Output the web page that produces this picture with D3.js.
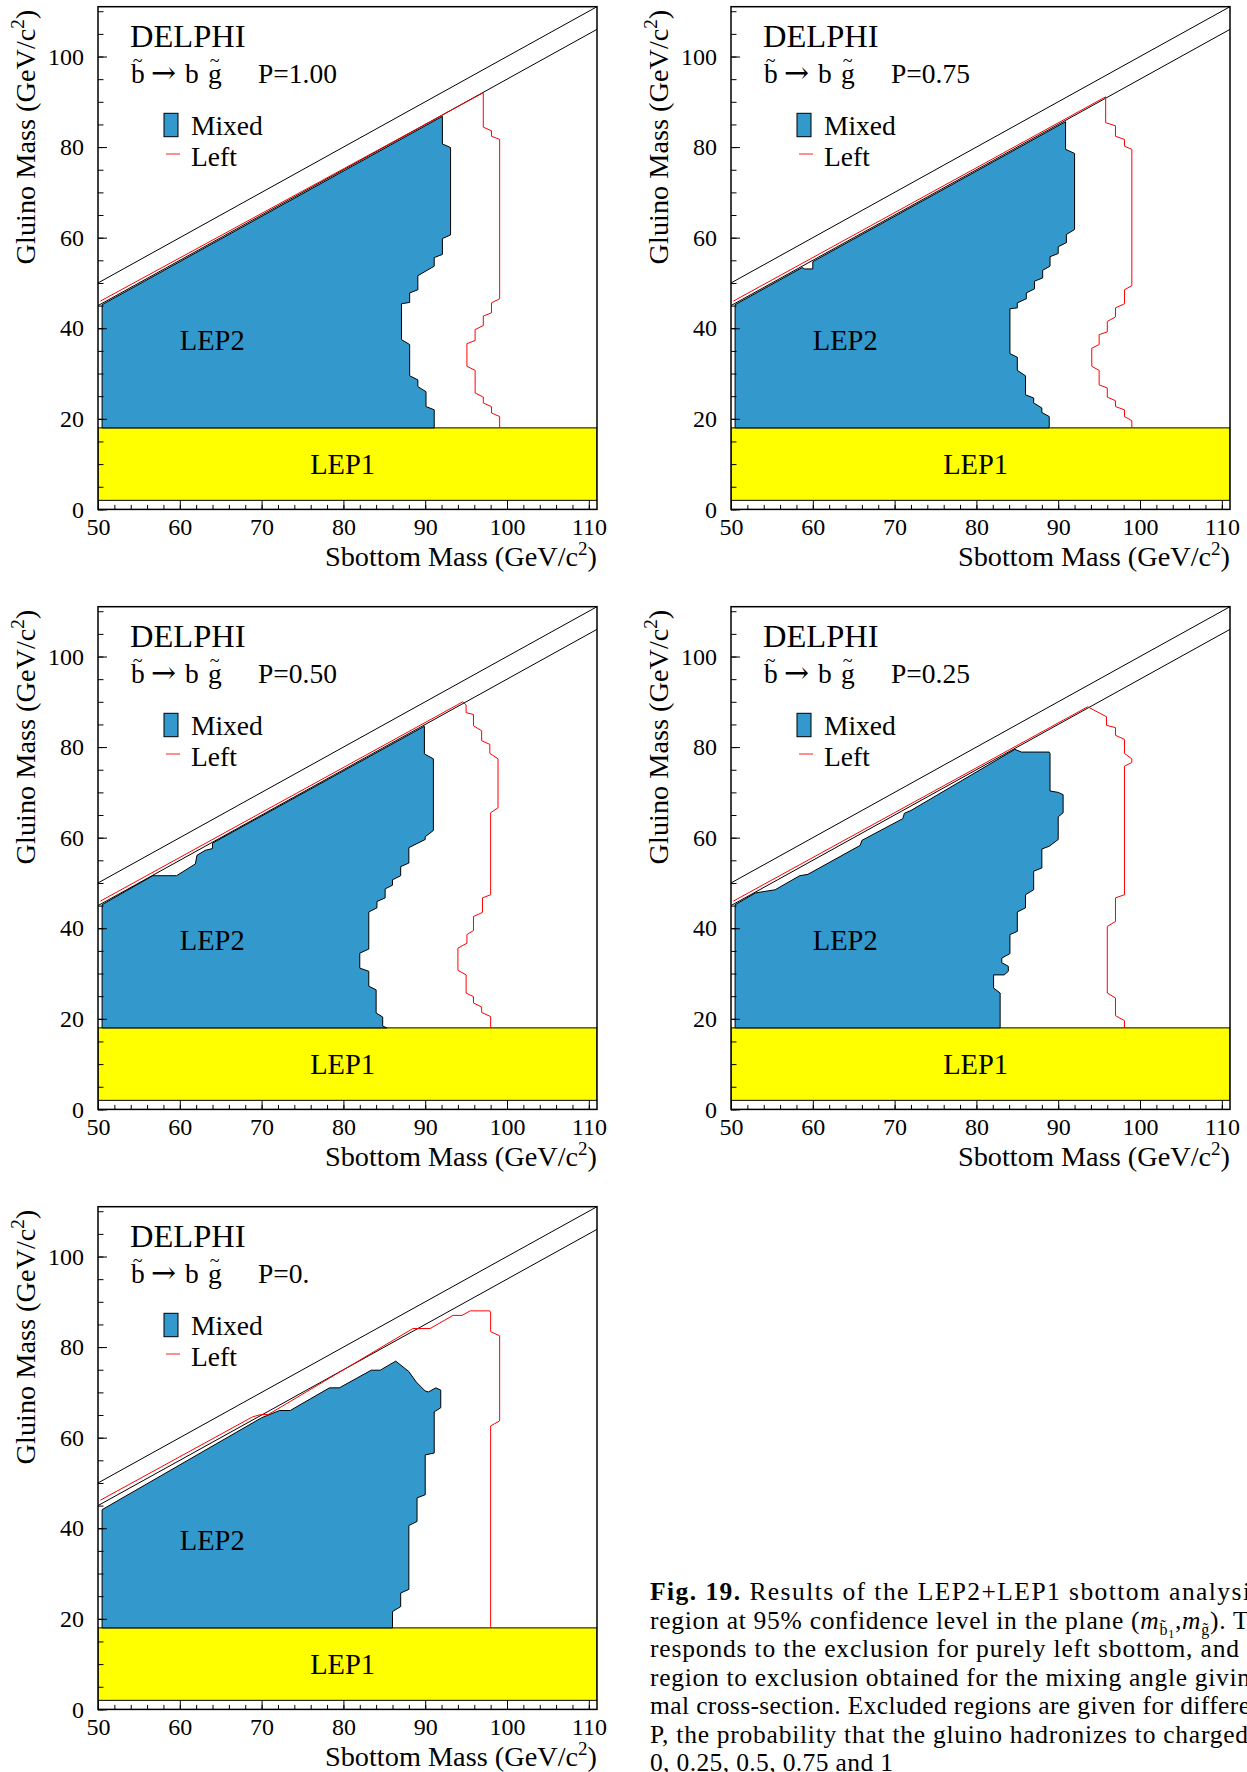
<!DOCTYPE html>
<html>
<head>
<meta charset="utf-8">
<script src="https://cdn.jsdelivr.net/npm/d3@7"></script>
<style>
  body { margin: 0; background: #fff; }
  svg { display: block; }
  text { font-family: "Liberation Serif", "Times New Roman", serif; fill: #000; }
</style>
</head>
<body>
<svg id="fig" width="1247" height="1772"></svg>
<script>
// axis ticks
const xTicks = [50, 60, 70, 80, 90, 100, 110]
const xMinor = d3.range(50, 111, 2)
const yTicks = [0, 20, 40, 60, 80, 100]
const yMinor = d3.range(0, 111, 5)

// kinematic limits and LEP1 band (GeV/c2)
const kinUpper = [[50, 50], [111, 111]]
const kinLower = [[50, 45], [111, 106]]
const lep1Band = [2, 18]

const pLabels = ['P=1.00', 'P=0.75', 'P=0.50', 'P=0.25', 'P=0.']

// excluded region, mixing angle of minimal cross-section (blue)
const mixed100 = [[50.5,18],[50.5,45.2],[92.1,86.8],[92.1,80.7],[93.1,79.9],[93.1,60.6],[92.1,59.8],[92.1,56.3],[91.1,55.6],[91.1,53.7],[89.1,51.6],[89.1,48.5],[88.1,47.8],[88.1,45.7],[87.1,45.4],[87.1,37.5],[88.1,36.4],[88.1,29.5],[89.1,28.6],[89.1,27.1],[90.1,26.0],[90.1,22.7],[91.1,22.0],[91.1,18]]
const mixed075 = [[50.5,18],[50.5,45.2],[58.7,53.4],[59.0,53.1],[60.0,53.1],[60.0,54.7],[90.9,85.6],[90.9,79.5],[92.0,78.6],[92.0,61.8],[91.0,60.7],[91.0,58.9],[90.0,58.0],[90.0,56.5],[89.0,55.8],[89.0,53.7],[88.1,52.8],[88.1,51.1],[87.1,50.4],[87.1,48.7],[86.1,47.8],[86.1,46.5],[85.0,45.6],[85.0,44.5],[84.1,44.3],[84.1,34.4],[85.0,33.6],[85.0,30.7],[86.0,29.5],[86.0,25.3],[87.0,24.6],[87.0,23.5],[88.0,22.4],[88.0,21.4],[88.9,20.5],[88.9,18]]
const mixed050 = [[50.5,18],[50.5,45.2],[56.7,51.6],[59.6,51.6],[61.9,54.2],[62.1,56.1],[63.1,57.2],[64.0,57.6],[64.0,58.8],[89.9,84.6],[89.9,78.5],[91.0,77.4],[91.0,61.6],[90.0,60.2],[90.0,59.6],[88.0,57.8],[88.0,54.4],[87.0,53.6],[87.0,51.6],[86.0,50.7],[86.0,49.5],[85.1,48.7],[85.1,46.7],[84.1,45.9],[84.1,44.5],[83.1,43.6],[83.1,35.4],[82.0,34.5],[82.0,31.2],[83.1,30.5],[83.1,27.2],[84.0,26.4],[84.0,21.3],[84.8,20.4],[84.8,18.4],[85.3,18]]
const mixed025 = [[50.5,18],[50.5,45.2],[53.0,47.8],[55.4,48.5],[58.4,51.6],[59.4,51.9],[65.8,58.3],[66.0,59.4],[71.0,64.2],[71.2,65.4],[72.0,66.0],[84.7,79.5],[85.5,78.9],[88.9,78.9],[89.0,78.6],[89.0,70.3],[90.0,70.0],[90.6,69.5],[90.6,65.5],[90.0,64.6],[90.0,59.6],[88.9,58.1],[88.0,57.5],[88.0,53.3],[87.0,52.6],[87.0,48.5],[86.0,47.4],[86.0,44.5],[85.0,43.6],[85.0,39.3],[84.1,38.6],[84.1,34.4],[83.1,33.4],[83.1,32.4],[83.9,31.6],[83.9,30.5],[83.4,29.7],[82.1,29.7],[82.1,26.8],[82.9,25.7],[82.9,18]]
const mixed000 = [[50.5,18],[50.5,44.1],[70.0,64.4],[72.2,66.0],[73.5,66.0],[78.3,71.0],[79.5,71.0],[83.4,74.9],[84.5,74.9],[86.4,76.9],[88.0,74.6],[88.9,72.3],[90.0,70.3],[90.4,70.1],[91.3,71.0],[91.9,70.5],[91.9,66.6],[91.1,65.7],[91.1,56.6],[90.0,56.2],[90.0,47.4],[89.0,46.7],[89.0,41.5],[88.0,40.6],[88.0,26.5],[87.0,25.7],[87.0,22.7],[86.0,21.6],[86.0,18]]

// excluded region, purely left sbottom (red contour)
const left100 = [[50.3,46.0],[97.1,92.0],[97.1,84.4],[98.1,83.6],[98.1,82.4],[99.1,81.7],[99.1,46.5],[98.1,45.6],[98.1,43.4],[97.1,42.7],[97.1,40.6],[96.1,39.7],[96.1,37.3],[95.1,36.6],[95.1,31.6],[96.1,30.7],[96.1,25.7],[97.1,24.8],[97.1,23.5],[98.1,22.7],[98.1,21.3],[99.1,20.5],[99.1,18]]
const left075 = [[50.3,46.0],[95.8,91.1],[95.8,85.4],[97.0,84.7],[97.0,82.4],[98.1,81.7],[98.1,80.2],[99.0,79.5],[99.0,49.4],[98.1,48.5],[98.1,45.4],[97.0,44.5],[97.0,42.5],[96.0,41.5],[96.0,39.2],[95.0,38.6],[95.0,36.4],[94.1,35.6],[94.1,31.6],[95.0,30.7],[95.0,27.5],[96.0,26.8],[96.0,24.8],[97.0,24.0],[97.0,22.7],[98.1,22.0],[98.1,20.5],[99.0,19.6],[99.0,18]]
const left050 = [[50.3,46.0],[94.6,90.0],[95.0,89.3],[95.0,87.6],[95.9,87.2],[95.9,84.7],[96.9,83.6],[96.9,81.4],[97.9,80.6],[97.9,78.6],[98.9,77.4],[98.9,66.6],[98.0,65.5],[98.0,47.4],[97.0,46.7],[97.0,43.5],[95.9,42.6],[95.9,39.5],[95.1,38.6],[95.1,36.7],[94.0,35.6],[94.0,30.7],[95.0,29.7],[95.0,25.7],[95.9,24.9],[95.9,23.5],[96.9,22.6],[96.9,21.4],[98.0,20.5],[98.0,18]]
const left025 = [[50.3,46.0],[93.6,88.9],[95.9,86.7],[95.9,84.8],[97.0,84.3],[97.0,82.6],[98.1,81.7],[98.1,78.6],[99.0,77.4],[99.0,76.6],[98.1,75.8],[98.1,47.4],[97.0,46.7],[97.0,41.5],[96.0,40.4],[96.0,25.7],[97.0,24.6],[97.0,20.7],[98.1,19.6],[98.1,18]]
const left000 = [[50.3,46.2],[68.9,64.6],[69.9,65.1],[70.8,65.1],[88.5,84.1],[90.6,84.1],[93.4,87.0],[94.5,87.0],[95.5,88.0],[97.9,88.0],[98.0,87.5],[98.0,83.4],[99.1,82.5],[99.1,63.7],[98.0,62.6],[98.0,18]]

const mixedRegions = [mixed100, mixed075, mixed050, mixed025, mixed000]
const leftContours = [left100, left075, left050, left025, left000]

// caption lines (text as printed, cut by the page edge)
const captionLines = [
  [{ t: 'Fig. 19.', b: true }, { t: ' Results of the LEP2+LEP1 sbottom analysi' }],
  [{ t: 'region at 95% confidence level in the plane (' }, { t: 'm', i: true }, { t: 'b\u0303', s: 16, sh: 6 }, { t: '1', s: 12, sh: 9 }, { t: ',' }, { t: 'm', i: true }, { t: 'g\u0303', s: 16, sh: 6 }, { t: '). T' }],
  [{ t: 'responds to the exclusion for purely left sbottom, and' }],
  [{ t: 'region to exclusion obtained for the mixing angle givin' }],
  [{ t: 'mal cross-section. Excluded regions are given for differe' }],
  [{ t: 'P, the probability that the gluino hadronizes to charged' }],
  [{ t: '0, 0.25, 0.5, 0.75 and 1' }],
]
const captionEnds = [1250, 1250, 1239, 1250, 1250, 1248, 893]

const W = 499, H = 502.7
const colX = [98, 731]
const rowY = [6.7, 606.7, 1206.7]
const blue = '#3399cc'

const svg = d3.select('#fig')

const x = d3.scaleLinear().domain([50, 111]).range([0, W])
const y = d3.scaleLinear().domain([0, 111]).range([H, 0])
const line = d3.line().x(d => x(d[0])).y(d => y(d[1]))

pLabels.forEach((pLabel, i) => {
  const g = svg.append('g')
      .attr('transform', `translate(${ colX[i % 2] },${ rowY[Math.floor(i / 2)] })`)

  g.append('clipPath').attr('id', 'clip' + i)
    .append('rect').attr('width', W).attr('height', H)

  const plot = g.append('g').attr('clip-path', `url(#clip${ i })`)

  // LEP1 band
  plot.append('rect')
      .attr('x', x(50))
      .attr('y', y(lep1Band[1]))
      .attr('width', x(111) - x(50))
      .attr('height', y(lep1Band[0]) - y(lep1Band[1]))
      .attr('fill', '#ffff00')
      .attr('stroke', '#000')
      .attr('stroke-width', 1)

  plot.append('path')
      .attr('d', line(mixedRegions[i]) + 'Z')
      .attr('fill', blue)
      .attr('stroke', '#000')
      .attr('stroke-width', 1)

  plot.selectAll('path.kin')
    .data([kinUpper, kinLower])
    .join('path')
      .attr('class', 'kin')
      .attr('d', line)
      .attr('fill', 'none')
      .attr('stroke', '#000')
      .attr('stroke-width', 1)

  plot.append('path')
      .attr('d', line(leftContours[i]))
      .attr('fill', 'none')
      .attr('stroke', '#ff0000')
      .attr('stroke-width', 1)

  // axes, ticks inside the frame
  const font = a => a.attr('font-family', '"Liberation Serif", "Times New Roman", serif').attr('font-size', 24)
  g.append('g').attr('transform', `translate(0,${ H })`)
      .call(d3.axisBottom(x).tickValues(xMinor).tickSize(-4.5).tickFormat(''))
      .call(a => a.select('.domain').remove())
  g.append('g').attr('transform', `translate(0,${ H })`)
      .call(d3.axisBottom(x).tickValues(xTicks).tickSize(-9).tickPadding(9))
      .call(a => a.select('.domain').remove())
      .call(font)
  g.append('g')
      .call(d3.axisLeft(y).tickValues(yMinor).tickSize(-5.5).tickFormat(''))
      .call(a => a.select('.domain').remove())
  g.append('g')
      .call(d3.axisLeft(y).tickValues(yTicks).tickSize(-9).tickPadding(14))
      .call(a => a.select('.domain').remove())
      .call(font)

  g.append('rect')
      .attr('width', W).attr('height', H)
      .attr('fill', 'none')
      .attr('stroke', '#000')
      .attr('stroke-width', 1.5)

  // titles
  const xt = g.append('text')
      .attr('x', W).attr('y', H + 56.3)
      .attr('text-anchor', 'end')
      .attr('font-size', 28.3)
  xt.append('tspan').text('Sbottom Mass (GeV/c')
  xt.append('tspan').attr('dy', -11).attr('font-size', 19).text('2')
  xt.append('tspan').attr('dy', 11).text(')')

  const yt = g.append('text')
      .attr('transform', 'translate(-63,3) rotate(-90)')
      .attr('text-anchor', 'end')
      .attr('font-size', 28.3)
  yt.append('tspan').text('Gluino Mass (GeV/c')
  yt.append('tspan').attr('dy', -11).attr('font-size', 19).text('2')
  yt.append('tspan').attr('dy', 11).text(')')

  // header
  g.append('text').attr('x', 32).attr('y', 40.5).attr('font-size', 32.5).text('DELPHI')

  const hdr = g.append('text').attr('y', 76.6).attr('font-size', 27.5)
  hdr.append('tspan').attr('x', 33).text('b')
  hdr.append('tspan').attr('x', 53).attr('font-family', '"DejaVu Serif", serif').attr('font-size', 30).text('\u2192')
  hdr.append('tspan').attr('x', 87).attr('font-size', 27.5).text('b')
  hdr.append('tspan').attr('x', 110).text('g')
  hdr.append('tspan').attr('x', 160).text(pLabel)
  g.selectAll('text.tilde')
    .data([39.7, 116.5])
    .join('text')
      .attr('class', 'tilde')
      .attr('x', d => d)
      .attr('y', 60.5)
      .attr('text-anchor', 'middle')
      .attr('font-size', 18)
      .text('~')

  // legend
  g.append('rect')
      .attr('x', 66).attr('y', 106.6)
      .attr('width', 14).attr('height', 23.4)
      .attr('fill', blue)
      .attr('stroke', '#000')
      .attr('stroke-width', 1)
  g.append('text').attr('x', 93).attr('y', 128.3).attr('font-size', 27.5).text('Mixed')
  g.append('line')
      .attr('x1', 68).attr('x2', 82)
      .attr('y1', 147.3).attr('y2', 147.3)
      .attr('stroke', '#ff4444')
      .attr('stroke-width', 1.2)
  g.append('text').attr('x', 93).attr('y', 159).attr('font-size', 27.5).text('Left')

  // region labels
  g.append('text')
      .attr('x', x(60.0)).attr('y', y(35.1))
      .attr('font-size', 28.5)
      .text('LEP2')
  g.append('text')
      .attr('x', x(79.9)).attr('y', y(7.9))
      .attr('text-anchor', 'middle')
      .attr('font-size', 28.5)
      .text('LEP1')
})

// caption
captionLines.forEach((segs, k) => {
  const t = svg.append('text')
      .attr('x', 650)
      .attr('y', 1600 + k * 28.5)
      .attr('font-size', 25.5)
  let shift = 0
  segs.forEach(s => {
    const sh = s.sh || 0
    const ts = t.append('tspan').text(s.t)
    if (sh !== shift) ts.attr('dy', sh - shift)
    shift = sh
    if (s.s) ts.attr('font-size', s.s)
    if (s.b) ts.attr('font-weight', 'bold')
    if (s.i) ts.attr('font-style', 'italic')
  })
  const n = t.text().length
  const len = t.node().getComputedTextLength()
  const ls = (captionEnds[k] - 650 - len) / (n - 1)
  t.attr('letter-spacing', ls.toFixed(3))
})
</script>
</body>
</html>
